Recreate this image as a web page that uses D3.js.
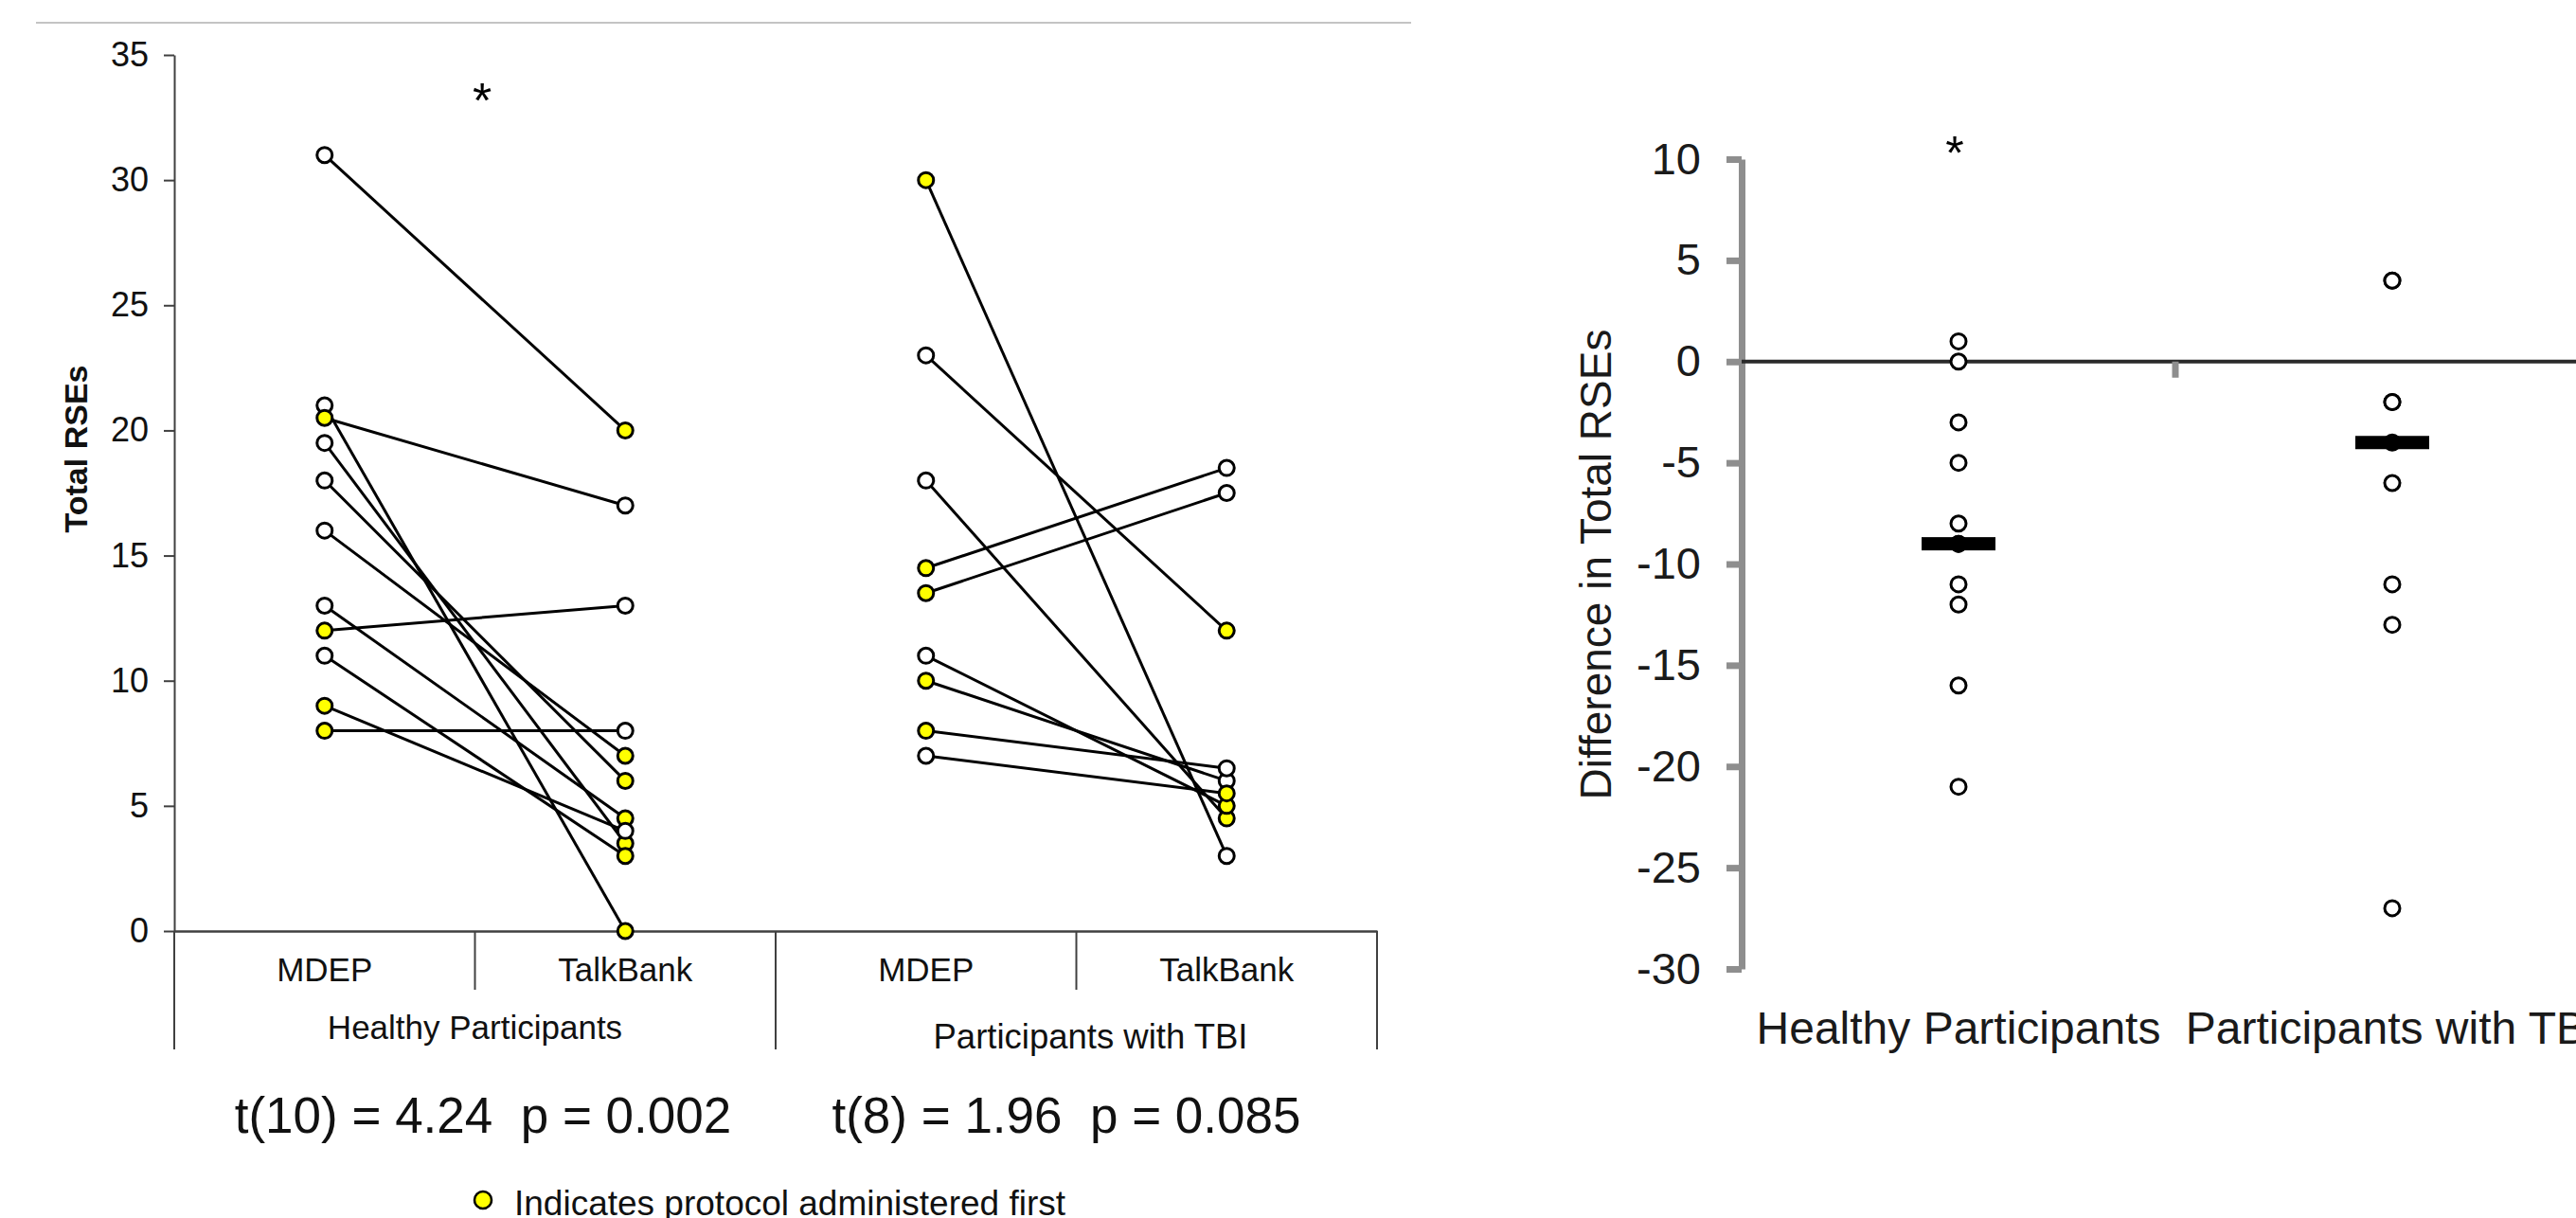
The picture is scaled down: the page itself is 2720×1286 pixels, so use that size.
<!DOCTYPE html>
<html>
<head>
<meta charset="utf-8">
<script src="https://cdn.jsdelivr.net/npm/d3@7"></script>
<style>
  body { margin: 0; background: #fff; }
  svg { display: block; font-family: "Liberation Sans", Arial, sans-serif; }
</style>
</head>
<body>
<svg id="chart" width="2720" height="1286"></svg>
<script>
// ---- left panel: total RSEs per protocol, paired by participant ----
const groups = ["Healthy Participants", "Participants with TBI"];
const protocols = ["MDEP", "TalkBank"];
const yTicks = [0, 5, 10, 15, 20, 25, 30, 35];

const healthyMDEP      = [31, 21, 20.5, 19.5, 18, 16, 13, 12, 11, 9, 8];
const healthyTalkBank  = [20, 0, 17, 3.5, 6, 7, 4.5, 13, 3, 4, 8];
const healthyMDEPFirst = [false, false, true, false, false, false, false, true, false, true, true];

const tbiMDEP      = [30, 23, 18, 14.5, 13.5, 11, 10, 8, 7];
const tbiTalkBank  = [3, 12, 4.5, 18.5, 17.5, 5, 6, 6.5, 5.5];
const tbiMDEPFirst = [true, false, false, true, true, false, true, true, false];

const stats = ["t(10) = 4.24  p = 0.002", "t(8) = 1.96  p = 0.085"];
const legendText = "Indicates protocol administered first";

// ---- right panel: difference (TalkBank - MDEP) ----
const diffTicks = [10, 5, 0, -5, -10, -15, -20, -25, -30];
const healthyDiff = [1, 0, -3, -5, -8, -9, -9, -11, -12, -16, -21];
const tbiDiff = [4, 4, -2, -2, -4, -6, -11, -13, -27];
const medianDiff = [-9, -4];

const YELLOW = '#ffff00';
const svg = d3.select('#chart');

svg.append('rect').attr('width', 2720).attr('height', 1286).attr('fill', '#fff');

// thin gray rule across the top of the left panel
svg.append('line')
  .attr('x1', 38).attr('x2', 1490).attr('y1', 24).attr('y2', 24)
  .attr('stroke', '#c4c4c4').attr('stroke-width', 2);

// ================= LEFT PANEL =================
const keys = groups.flatMap(g => protocols.map(p => g + '|' + p));
const x = d3.scaleBand().domain(keys).range([184, 1454]);
const y = d3.scaleLinear().domain([0, 35]).range([983, 58]);
const cx = k => x(k) + x.bandwidth() / 2;
const bottom = 1108;

const pairs = [
  ...healthyMDEP.map((v, i) => ({ group: groups[0], mdep: v, talk: healthyTalkBank[i], mdepFirst: healthyMDEPFirst[i] })),
  ...tbiMDEP.map((v, i) => ({ group: groups[1], mdep: v, talk: tbiTalkBank[i], mdepFirst: tbiMDEPFirst[i] }))
];

// y axis
const yAxis = svg.append('g')
  .attr('transform', 'translate(184,0)')
  .call(d3.axisLeft(y).tickValues(yTicks).tickSize(11).tickPadding(16).tickSizeOuter(0))
  .attr('font-family', null).attr('font-size', 36);
yAxis.select('.domain').attr('stroke', '#404040').attr('stroke-width', 2);
yAxis.selectAll('.tick line').attr('stroke', '#404040').attr('stroke-width', 2);
yAxis.selectAll('.tick text').attr('fill', '#111');

// x axis (category row)
const xAxis = svg.append('g')
  .attr('transform', `translate(0,${y(0)})`)
  .call(d3.axisBottom(x).tickSize(0).tickSizeOuter(0).tickFormat(k => k.split('|')[1]))
  .attr('font-family', null).attr('font-size', 35);
xAxis.select('.domain').attr('stroke', '#404040').attr('stroke-width', 2.5);
xAxis.selectAll('.tick text').attr('y', 53).attr('dy', null).attr('fill', '#111');

// table-like separators under the axis
const sep = svg.append('g').attr('stroke', '#404040').attr('stroke-width', 2);
sep.append('line').attr('x1', 184).attr('x2', 184).attr('y1', y(0)).attr('y2', bottom);
groups.forEach(g => {
  const xs = x(g + '|TalkBank');
  sep.append('line').attr('x1', xs).attr('x2', xs).attr('y1', y(0)).attr('y2', 1045);
  const xe = x(g + '|TalkBank') + x.bandwidth();
  sep.append('line').attr('x1', xe).attr('x2', xe).attr('y1', y(0)).attr('y2', bottom);
});

// group labels
const groupShift = [[0, 0, 35], [15, 10, 36.5]];
svg.append('g').selectAll('text').data(groups).join('text')
  .attr('x', (g, i) => (x(g + '|MDEP') + x(g + '|TalkBank') + x.bandwidth()) / 2 + groupShift[i][0])
  .attr('y', (g, i) => 1097 + groupShift[i][1])
  .attr('text-anchor', 'middle').attr('font-size', (g, i) => groupShift[i][2]).attr('fill', '#111')
  .text(g => g);

// y axis title
svg.append('text')
  .attr('transform', 'translate(80,474) rotate(-90)')
  .attr('text-anchor', 'middle').attr('dy', '0.35em')
  .attr('font-size', 34).attr('font-weight', 'bold').attr('fill', '#111')
  .text('Total RSEs');

// paired lines
svg.append('g').selectAll('line').data(pairs).join('line')
  .attr('x1', d => cx(d.group + '|MDEP')).attr('y1', d => y(d.mdep))
  .attr('x2', d => cx(d.group + '|TalkBank')).attr('y2', d => y(d.talk))
  .attr('stroke', '#000').attr('stroke-width', 3);

// markers
const points = pairs.flatMap(d => [
  { key: d.group + '|MDEP', v: d.mdep, first: d.mdepFirst },
  { key: d.group + '|TalkBank', v: d.talk, first: !d.mdepFirst }
]);
svg.append('g').selectAll('circle').data(points).join('circle')
  .attr('cx', d => cx(d.key)).attr('cy', d => y(d.v)).attr('r', 8)
  .attr('fill', d => d.first ? YELLOW : '#fff')
  .attr('stroke', '#000').attr('stroke-width', 3);

// significance mark
svg.append('text').attr('x', 509).attr('y', 124).attr('text-anchor', 'middle')
  .attr('font-size', 52).text('*');

// t-test results
const statX = [510, 1126];
svg.append('g').selectAll('text').data(stats).join('text')
  .attr('x', (d, i) => statX[i]).attr('y', 1196)
  .attr('text-anchor', 'middle').attr('font-size', 53).attr('fill', '#111')
  .style('white-space', 'pre')
  .text(d => d);

// legend
svg.append('circle').attr('cx', 510).attr('cy', 1267).attr('r', 9)
  .attr('fill', YELLOW).attr('stroke', '#000').attr('stroke-width', 2.5);
svg.append('text').attr('x', 543).attr('y', 1283)
  .attr('font-size', 37).attr('fill', '#111').text(legendText);

// ================= RIGHT PANEL =================
const xR = d3.scaleBand().domain(groups).range([1839, 2755]);
const yR = d3.scaleLinear().domain([-30, 10]).range([1023, 168]);
const cxR = g => xR(g) + xR.bandwidth() / 2;
const GRAY = '#8e8e8e';

const rAxis = svg.append('g')
  .attr('transform', 'translate(1839,0)')
  .call(d3.axisLeft(yR).tickValues(diffTicks).tickSize(16).tickPadding(27).tickSizeOuter(0)
    .tickFormat(d => String(d)))
  .attr('font-family', null).attr('font-size', 47);
rAxis.select('.domain').attr('stroke', GRAY).attr('stroke-width', 7);
rAxis.selectAll('.tick line').attr('stroke', GRAY).attr('stroke-width', 7);
rAxis.selectAll('.tick text').attr('fill', '#1a1a1a');

// zero line and category tick
svg.append('line')
  .attr('x1', 1839).attr('x2', 2720).attr('y1', yR(0)).attr('y2', yR(0))
  .attr('stroke', '#2a2a2a').attr('stroke-width', 4);
svg.append('line')
  .attr('x1', xR(groups[1])).attr('x2', xR(groups[1]))
  .attr('y1', yR(0)).attr('y2', yR(0) + 17)
  .attr('stroke', GRAY).attr('stroke-width', 7);

// category labels
svg.append('g').selectAll('text').data(groups).join('text')
  .attr('x', g => cxR(g)).attr('y', 1102)
  .attr('text-anchor', 'middle').attr('font-size', 48).attr('fill', '#1a1a1a')
  .text(g => g);

// y title
svg.append('text')
  .attr('transform', 'translate(1685,596) rotate(-90)')
  .attr('text-anchor', 'middle').attr('dy', '0.35em')
  .attr('font-size', 46).attr('fill', '#1a1a1a')
  .text('Difference in Total RSEs');

// difference points
const diffs = [
  ...healthyDiff.map(v => ({ g: groups[0], v })),
  ...tbiDiff.map(v => ({ g: groups[1], v }))
];
svg.append('g').selectAll('circle').data(diffs).join('circle')
  .attr('cx', d => cxR(d.g)).attr('cy', d => yR(d.v)).attr('r', 8)
  .attr('fill', '#fff').attr('stroke', '#000').attr('stroke-width', 3);

// median bars
svg.append('g').selectAll('rect').data(medianDiff).join('rect')
  .attr('x', (d, i) => cxR(groups[i]) - 39).attr('y', d => yR(d) - 7)
  .attr('width', 78).attr('height', 14).attr('fill', '#000');

svg.append('text').attr('x', cxR(groups[0]) - 4).attr('y', 179).attr('text-anchor', 'middle')
  .attr('font-size', 50).text('*');
</script>
</body>
</html>
